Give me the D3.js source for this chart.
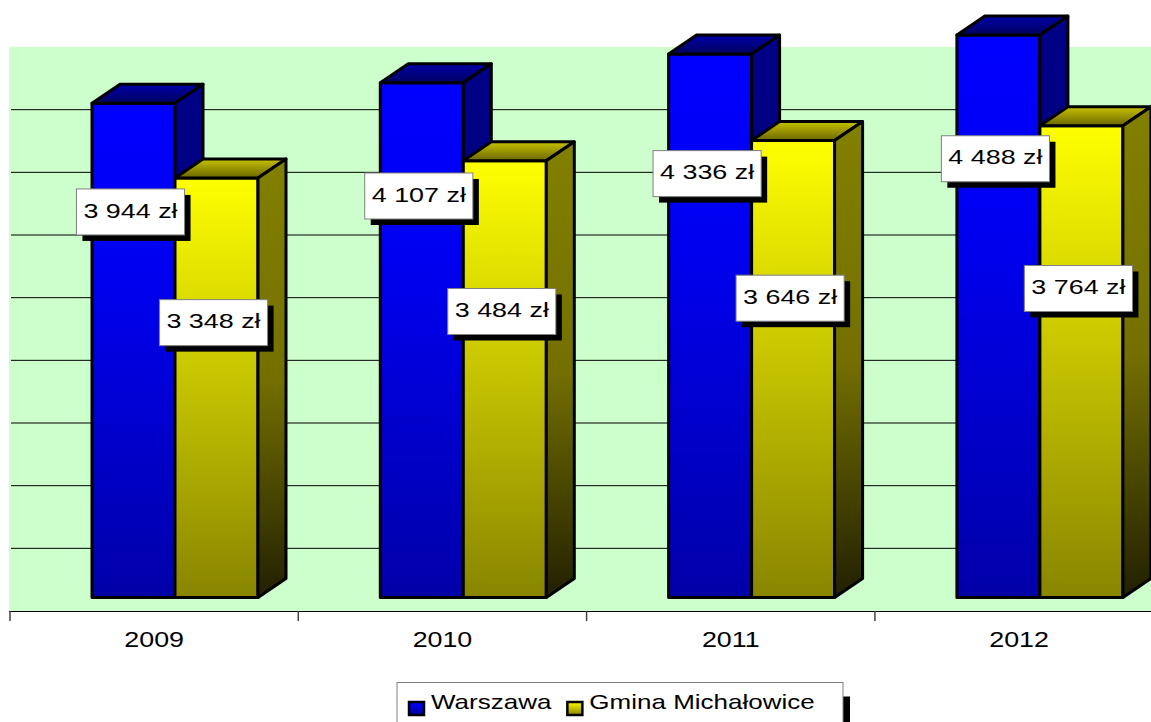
<!DOCTYPE html>
<html><head><meta charset="utf-8">
<script src="https://cdn.jsdelivr.net/npm/d3@7"></script>
<style>body{margin:0;background:#fff} svg{display:block}</style>
</head><body>
<svg id="chart" width="1151" height="722"></svg>
<script>
// ---- data ----
const years = ["2009", "2010", "2011", "2012"];
const seriesNames = ["Warszawa", "Gmina Michałowice"];
const warszawa = [3944, 4107, 4336, 4488];
const michalowice = [3348, 3484, 3646, 3764];
const gridValues = [500, 1000, 1500, 2000, 2500, 3000, 3500, 4000];

// ---- layout ----
const W = 1151, H = 722;
const plot = {left: 9, top: 47, right: 1151, bottom: 611};
const depth = {dx: 28, dy: 19};
const barLift = 13.5;        // front base of bars above floor line
const fontFam = "Arial, 'Liberation Sans', sans-serif";

const svg = d3.select("#chart");
const defs = svg.append("defs");

const y = d3.scaleLinear().domain([0, 4500]).range([plot.bottom, plot.top]);
const x0 = d3.scaleBand().domain(years).range([10, 10 + 4 * 288.3]).padding(0);
const x1 = d3.scaleBand().domain(seriesNames).range([82, 82 + 166]).padding(0);

const seriesValues = [warszawa, michalowice];
const locale = d3.formatLocale({decimal: ",", thousands: " ", grouping: [3], currency: ["", " zł"]});
const fmt = v => locale.format(",")(v) + " zł";

function grad(id, stops, vertical = true) {
  const g = defs.append("linearGradient").attr("id", id)
    .attr("x1", 0).attr("y1", 0).attr("x2", vertical ? 0 : 1).attr("y2", vertical ? 1 : 0);
  stops.forEach(([o, c]) => g.append("stop").attr("offset", o).attr("stop-color", c));
}
grad("bFront", [[0, "#0000FF"], [0.35, "#0000F0"], [1, "#0000A8"]]);
grad("bTop", [[0, "#0000A8"], [1, "#000060"]]);
grad("bSide", [[0, "#000088"], [1, "#000070"]]);
grad("yFront", [[0, "#FFFF00"], [1, "#888500"]]);
grad("yTop", [[0, "#C8C200"], [1, "#6A6600"]]);
grad("ySide", [[0, "#828000"], [0.5, "#747000"], [1, "#222000"]]);
const fills = [
  {front: "url(#bFront)", top: "url(#bTop)", side: "url(#bSide)", legend: "#0000FF"},
  {front: "url(#yFront)", top: "url(#yTop)", side: "url(#ySide)", legend: "#FFFF00"}
];
grad("lgB", [[0, "#0000FF"], [1, "#0000A0"]]);
grad("lgY", [[0, "#FFFF00"], [1, "#8A8600"]]);

// plot background
svg.append("rect").attr("x", plot.left).attr("y", plot.top)
  .attr("width", plot.right - plot.left).attr("height", plot.bottom - plot.top)
  .attr("fill", "#CCFFCC");

// gridlines
svg.append("g").selectAll("line").data(gridValues).join("line")
  .attr("x1", 11).attr("x2", plot.right)
  .attr("y1", d => y(d)).attr("y2", d => y(d))
  .attr("stroke", "#000").attr("stroke-width", 1);

// axis line
svg.append("line").attr("x1", plot.left).attr("x2", plot.right)
  .attr("y1", plot.bottom + 0.5).attr("y2", plot.bottom + 0.5)
  .attr("stroke", "#000").attr("stroke-width", 1);

// ticks at category boundaries
const tickXs = years.map(d => x0(d)).concat([x0(years[3]) + x0.bandwidth()]);
svg.append("g").selectAll("line").data(tickXs).join("line")
  .attr("x1", d => d).attr("x2", d => d)
  .attr("y1", plot.bottom).attr("y2", plot.bottom + 10)
  .attr("stroke", "#444").attr("stroke-width", 1.5);

// category labels
svg.append("g").selectAll("text").data(years).join("text")
  .attr("transform", d => `translate(${x0(d) + x0.bandwidth() / 2},647) scale(1.22,1)`)
  .attr("text-anchor", "middle").attr("font-family", fontFam).attr("font-size", 22)
  .attr("fill", "#000").text(d => d);

// bars
const barsG = svg.append("g");
years.forEach((yr, i) => {
  seriesNames.forEach((s, j) => {
    const v = seriesValues[j][i];
    const xl = x0(yr) + x1(s), xr = xl + x1.bandwidth();
    const yt = y(v) - barLift, yb = y(0) - barLift;
    const g = barsG.append("g").attr("stroke", "#000").attr("stroke-width", 3)
      .attr("stroke-linejoin", "round");
    g.append("rect").attr("x", xl).attr("y", yt).attr("width", xr - xl).attr("height", yb - yt)
      .attr("fill", fills[j].front);
    g.append("polygon").attr("points", [[xl, yt], [xl + depth.dx, yt - depth.dy], [xr + depth.dx, yt - depth.dy], [xr, yt]].join(" "))
      .attr("fill", fills[j].top);
    g.append("polygon").attr("points", [[xr, yt], [xr + depth.dx, yt - depth.dy], [xr + depth.dx, yb - depth.dy], [xr, yb]].join(" "))
      .attr("fill", fills[j].side);
  });
});

// data labels
const labelFrac = [0.78, 0.655];
const labG = svg.append("g");
years.forEach((yr, i) => {
  seriesNames.forEach((s, j) => {
    const v = seriesValues[j][i];
    const cx = x0(yr) + x1(s) + x1.bandwidth() / 2 - 3;
    const cy = y(v * labelFrac[j]) - barLift;
    const g = labG.append("g");
    const t = g.append("text").attr("font-family", fontFam).attr("font-size", 21)
      .attr("text-anchor", "middle").attr("fill", "#000")
      .attr("transform", `translate(${cx},${cy + 5.7}) scale(1.28,1)`).text(fmt(v));
    const tw = t.node().getComputedTextLength() * 1.28;
    const bw = tw + 14, bh = 46;
    g.insert("rect", "text").attr("x", cx - bw / 2 + 6).attr("y", cy - bh / 2 + 6)
      .attr("width", bw).attr("height", bh).attr("fill", "#000");
    g.insert("rect", "text").attr("x", cx - bw / 2).attr("y", cy - bh / 2)
      .attr("width", bw).attr("height", bh).attr("fill", "#fff")
      .attr("stroke", "#808080").attr("stroke-width", 1);
  });
});

// legend
const lg = svg.append("g");
const lgShadow = lg.append("rect").attr("fill", "#000");
const lgBox = lg.append("rect").attr("fill", "#fff").attr("stroke", "#808080").attr("stroke-width", 1);
let cursor = 408;
const lgFills = ["url(#lgB)", "url(#lgY)"];
seriesNames.forEach((s, j) => {
  lg.append("rect").attr("x", cursor + 1).attr("y", 702).attr("width", 15).attr("height", 13)
    .attr("fill", lgFills[j]).attr("stroke", "#000").attr("stroke-width", 2.5);
  const tx = cursor + 23;
  const t = lg.append("text").attr("font-family", fontFam).attr("font-size", 20).attr("fill", "#000")
    .attr("transform", `translate(${tx},709) scale(1.3,1)`).text(s);
  cursor = tx + t.node().getComputedTextLength() * 1.3 + 15;
});
const lgX = 397, lgY = 682.5, lgW = 446;
lgBox.attr("x", lgX).attr("y", lgY).attr("width", lgW).attr("height", 60);
lgShadow.attr("x", lgX + 7).attr("y", lgY + 14).attr("width", lgW).attr("height", 60);
</script>
</body></html>
